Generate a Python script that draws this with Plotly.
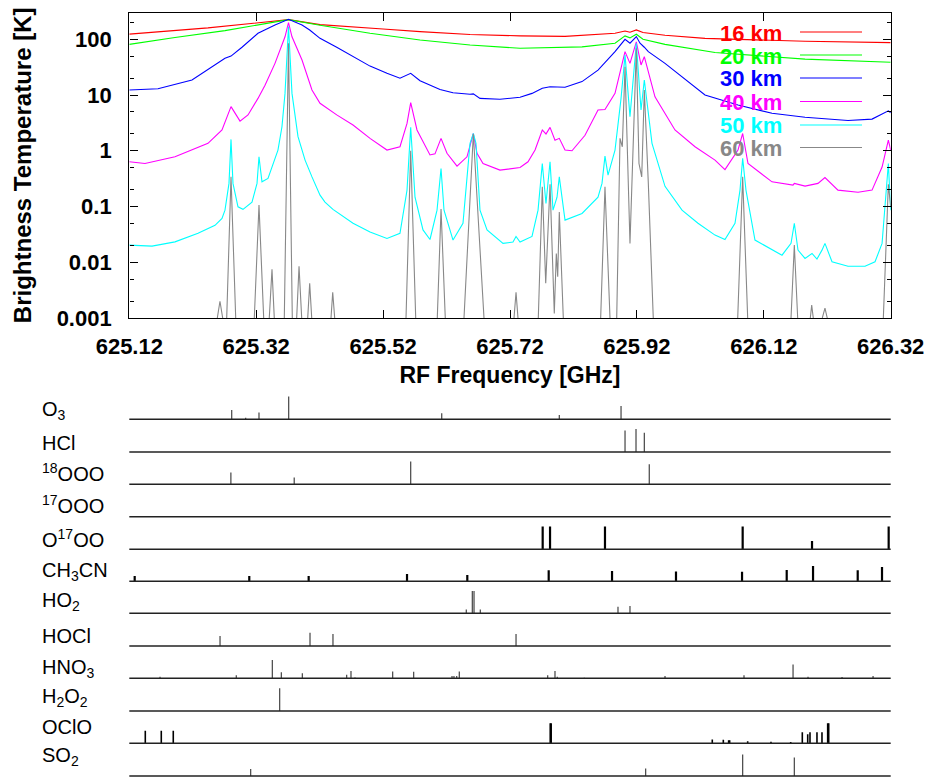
import plotly.graph_objects as go

# ---------------- data: brightness temperature spectra (GHz, K) ----------------
f16 = [625.12, 625.2440, 625.3709, 625.4206, 625.5198, 625.5782, 625.6570, 625.7358, 625.8067,
       625.8855, 625.9013, 625.9091, 625.9191, 625.9296, 625.9643, 626.0273, 626.1850, 626.2716, 626.32]
t16 = [124, 160, 225, 183, 153, 137, 122, 115, 113, 128, 141, 134, 147, 132, 118, 104, 92, 89, 87]

f20 = [625.12, 625.1920, 625.2708, 625.3228, 625.3709, 625.4206, 625.4994, 625.5782, 625.6570, 625.7358,
       625.8335, 625.8855, 625.9013, 625.9091, 625.9191, 625.9296, 625.9643, 626.0431, 626.1850, 626.32]
t20 = [81, 108, 143, 181, 225, 178, 128, 97, 79, 69, 73, 85, 115, 106, 123, 100, 81, 58, 44, 38.7]

f30 = [625.12, 625.1652, 625.2188, 625.2708, 625.2803, 625.2976, 625.3228, 625.3496, 625.3709, 625.3922,
       625.4043, 625.4206, 625.4469, 625.4726, 625.4994, 625.5261, 625.5466, 625.5635, 625.5782, 625.6097,
       625.6302, 625.6570, 625.6622, 625.6727, 625.7042, 625.7358, 625.7547, 625.7709, 625.7831, 625.8067,
       625.8335, 625.8587, 625.8855, 625.9013, 625.9091, 625.9191, 625.9249, 625.9317, 625.9380, 625.9643,
       625.9911, 626.0273, 626.0793, 626.1329, 626.1850, 626.2527, 626.2906, 626.3163, 626.32]
t30 = [12.3, 13, 18.6, 45.6, 50, 72, 128, 181, 229, 181,
       147, 104, 72, 48.7, 33, 24.5, 20, 24.5, 18, 12.6,
       11, 10.3, 10.5, 8.7, 8.4, 9.1, 10.7, 13.2, 14.1, 13.8,
       17.4, 28, 60, 100, 85, 112, 85, 72, 60, 37,
       21.4, 10, 6.6, 4.7, 4.0, 3.5, 3.7, 5.2, 4.8]

f40 = [625.12, 625.1447, 625.1920, 625.2440, 625.2661, 625.2803, 625.2945, 625.3071, 625.3228, 625.3339,
       625.3496, 625.3654, 625.3709, 625.3764, 625.3922, 625.4079, 625.4206, 625.4469, 625.4726, 625.4994,
       625.5261, 625.5466, 625.5577, 625.5635, 625.5734, 625.5939, 625.6018, 625.6113, 625.6207, 625.6365,
       625.6522, 625.6622, 625.6680, 625.6775, 625.7042, 625.7247, 625.7295, 625.7358, 625.7484, 625.7595,
       625.7709, 625.7767, 625.7831, 625.7909, 625.7977, 625.8067, 625.8177, 625.8382, 625.8587, 625.8697,
       625.8855, 625.9013, 625.9091, 625.9191, 625.9265, 625.9317, 625.9485, 625.9800, 626.0116, 626.0431,
       626.0588, 626.0793, 626.0867, 626.0951, 626.1329, 626.1660, 626.1681, 626.1850, 626.2054, 626.2164,
       626.2369, 626.2685, 626.2906, 626.3064, 626.3163, 626.32]
t40 = [0.635, 0.59, 0.78, 1.36, 2.36, 6.2, 3.4, 4.4, 8.7, 15,
       37, 111, 200, 111, 42.5, 12.3, 7.1, 4.4, 2.9, 1.67,
       1.03, 1.18, 3.1, 7.3, 2.36, 0.84, 0.88, 1.67, 0.9, 0.53,
       0.78, 2.04, 0.9, 0.59, 0.45, 0.48, 0.5, 0.5, 0.635, 1.03,
       2.36, 2.0, 2.63, 1.55, 1.67, 1.03, 1.0, 1.9, 5.4, 5.5,
       10.7, 60, 37, 90, 34.6, 48.7, 9.3, 2.36, 1.18, 0.68,
       0.46, 1.03, 2.04, 0.59, 0.277, 0.242, 0.26, 0.232, 0.26, 0.33,
       0.197, 0.18, 0.197, 0.51, 1.55, 1.03]

f50 = [625.12, 625.1558, 625.1920, 625.2283, 625.2551, 625.2661, 625.2708, 625.2771, 625.2803, 625.2834,
       625.2913, 625.2992, 625.3134, 625.3213, 625.3244, 625.3291, 625.3386, 625.3543, 625.3606, 625.3654,
       625.3709, 625.3764, 625.3859, 625.3970, 625.4079, 625.4206, 625.4284, 625.4410, 625.4726, 625.4994,
       625.5261, 625.5466, 625.5577, 625.5635, 625.5703, 625.5829, 625.5939, 625.6050, 625.6113, 625.6160,
       625.6302, 625.6459, 625.6570, 625.6622, 625.6664, 625.6727, 625.6838, 625.7090, 625.7247, 625.7295,
       625.7358, 625.7547, 625.7642, 625.7709, 625.7767, 625.7831, 625.7878, 625.7941, 625.7977, 625.8067,
       625.8335, 625.8587, 625.8650, 625.8697, 625.8745, 625.8855, 625.8950, 625.9013, 625.9091, 625.9191,
       625.9265, 625.9317, 625.9438, 625.9643, 625.9911, 626.0163, 626.0431, 626.0588, 626.0746, 626.0825,
       626.0867, 626.0919, 626.1061, 626.1487, 626.1629, 626.1681, 626.1739, 626.1850, 626.1960, 626.2038,
       626.2117, 626.2164, 626.2275, 626.2527, 626.2795, 626.2953, 626.3064, 626.3111, 626.3163, 626.32]
t50 = [0.0203, 0.0195, 0.0232, 0.033, 0.046, 0.061, 0.086, 0.26, 1.6, 0.26,
       0.099, 0.089, 0.12, 0.26, 0.78, 0.277, 0.32, 1.03, 2.7, 10.7,
       170, 10.7, 1.79, 0.68, 0.34, 0.16, 0.12, 0.089, 0.05, 0.035,
       0.0267, 0.033, 0.197, 2.63, 0.147, 0.038, 0.0256, 0.086, 0.48, 0.086,
       0.025, 0.05, 1.36, 2.04, 1.36, 0.086, 0.038, 0.0218, 0.023, 0.029,
       0.023, 0.029, 0.086, 0.59, 0.113, 0.635, 0.086, 0.147, 0.34, 0.057,
       0.075, 0.147, 0.26, 0.8, 0.366, 1.03, 8.7, 52, 4.1, 85,
       5.4, 18.6, 1.36, 0.23, 0.086, 0.05, 0.0307, 0.0256, 0.05, 0.197,
       0.73, 0.197, 0.025, 0.0134, 0.0218, 0.05, 0.0165, 0.0117, 0.0144, 0.0114,
       0.0165, 0.0218, 0.0102, 0.0085, 0.0085, 0.0102, 0.0218, 0.099, 0.59, 0.086]

# 60 km: only the parts above 0.001 K are visible; None separates the peaks
f60 = [625.2587, 625.2629, 625.2672, None,
       625.2735, 625.2803, 625.2877, None,
       625.3170, 625.3244, 625.3318, None,
       625.3406, 625.3449, 625.3485, None,
       625.3643, 625.3709, 625.3769, None,
       625.3838, 625.3875, 625.3917, None,
       625.4012, 625.4043, 625.4075, None,
       625.4379, 625.4406, 625.4437, None,
       625.5561, 625.5635, 625.5714, None,
       625.6054, 625.6113, 625.6180, None,
       625.6475, 625.6622, 625.6790, None,
       625.7263, 625.7295, 625.7326, None,
       625.7646, 625.7709, 625.7763, 625.7831, 625.7898, 625.7930, 625.7952, 625.7977, 625.8040, None,
       625.8629, 625.8697, 625.8776, None,
       625.8882, 625.8934, 625.8970, 625.9013, 625.9091, 625.9191, 625.9233, 625.9276, 625.9317, 625.9380, 625.9458, None,
       626.0789, 626.0867, 626.0946, None,
       626.1629, 626.1681, 626.1734, None,
       626.1933, 626.1955, 626.1980, None,
       626.2122, 626.2164, 626.2200, None,
       626.3084, 626.3163, 626.32]
t60 = [0.001, 0.002, 0.001, None,
       0.001, 0.34, 0.001, None,
       0.001, 0.106, 0.001, None,
       0.001, 0.0075, 0.001, None,
       0.001, 85, 0.001, None,
       0.001, 0.0085, 0.001, None,
       0.001, 0.0042, 0.001, None,
       0.001, 0.0029, 0.001, None,
       0.001, 1.0, 0.001, None,
       0.001, 0.09, 0.001, None,
       0.001, 2.0, 0.001, None,
       0.001, 0.0029, 0.001, None,
       0.001, 0.226, 0.0042, 0.25, 0.0012, 0.0144, 0.0055, 0.08, 0.001, None,
       0.001, 0.226, 0.001, None,
       0.001, 1.67, 1.18, 32, 0.0218, 69, 0.59, 0.34, 12.3, 0.26, 0.001, None,
       0.001, 0.34, 0.001, None,
       0.001, 0.0203, 0.001, None,
       0.001, 0.0017, 0.001, None,
       0.001, 0.0015, 0.001, None,
       0.001, 0.25, 0.1]

alt_names = ["16 km", "20 km", "30 km", "40 km", "50 km", "60 km"]
alt_colors = ["#ff0000", "#00ff00", "#0000ff", "#ff00ff", "#00ffff", "#888888"]
alt_freqs = [f16, f20, f30, f40, f50, f60]
alt_temps = [t16, t20, t30, t40, t50, t60]

x_tickvals = [625.12, 625.32, 625.52, 625.72, 625.92, 626.12, 626.32]
x_ticktext = ["625.12", "625.32", "625.52", "625.72", "625.92", "626.12", "626.32"]
y_tickvals = [0.001, 0.01, 0.1, 1, 10, 100]
y_ticktext = ["0.001", "0.01", "0.1", "1", "10", "100"]
y_minorvals = [0.002, 0.005, 0.02, 0.05, 0.2, 0.5, 2, 5, 20, 50, 200]

# ---------------- data: line positions of each species (GHz, relative strength) ----------------
sp_labels = ["O<sub>3</sub>", "HCl", "<sup>18</sup>OOO", "<sup>17</sup>OOO", "O<sup>17</sup>OO",
             "CH<sub>3</sub>CN", "HO<sub>2</sub>", "HOCl", "HNO<sub>3</sub>",
             "H<sub>2</sub>O<sub>2</sub>", "OClO", "SO<sub>2</sub>"]
o3_f = [625.2814, 625.3034, 625.3244, 625.3712, 625.6124, 625.7977, 625.8950]
o3_s = [0.40, 0.07, 0.30, 0.99, 0.26, 0.19, 0.58]
hcl_f = [625.9013, 625.9186, 625.9317]
hcl_s = [0.93, 1.0, 0.84]
o18_f = [625.2801, 625.3799, 625.5635, 625.9395]
o18_s = [0.51, 0.30, 0.99, 0.87]
o17a_f = []
o17a_s = []
o17b_f = [625.7715, 625.7831, 625.8697, 626.0867, 626.1960, 626.3168]
o17b_s = [0.99, 0.99, 0.99, 0.99, 0.36, 0.99]
ch3cn_f = [625.1285, 625.3091, 625.4027, 625.5577, 625.6527, 625.7810, 625.8808, 625.9816,
           626.0857, 626.1561, 626.1976, 626.2680, 626.3063]
ch3cn_s = [0.23, 0.23, 0.23, 0.32, 0.27, 0.48, 0.45, 0.43, 0.42, 0.49, 0.67, 0.48, 0.62]
ho2_f = [625.6511, 625.6606, 625.6633, 625.6732, 625.8902, 625.9091]
ho2_s = [0.17, 0.97, 0.97, 0.17, 0.29, 0.32]
hocl_f = [625.2630, 625.4048, 625.4410, 625.7295]
hocl_s = [0.43, 0.58, 0.52, 0.52]
hno3_f = [625.1684, 625.2886, 625.3454, 625.3596, 625.3927, 625.4626, 625.4694, 625.4757, 625.5351,
          625.5682, 625.6286, 625.6317, 625.6360, 625.6401, 625.7794, 625.7909, 625.7945, 625.8371,
          625.9643, 626.0888, 626.1661, 626.1897, 626.2433, 626.2922]
hno3_s = [0.07, 0.13, 0.80, 0.26, 0.22, 0.16, 0.32, 0.04, 0.30, 0.29, 0.10, 0.10, 0.10, 0.30,
          0.13, 0.32, 0.07, 0.03, 0.10, 0.13, 0.60, 0.07, 0.06, 0.10]
h2o2_f = [625.3570]
h2o2_s = [0.99]
oclo_f = [625.1452, 625.1704, 625.1893, 625.7834, 625.7849, 626.0388, 626.0562, 626.0646, 626.0662,
          626.0946, 626.1313, 626.1624, 626.1807, 626.1892, 626.1928, 626.2038, 626.2117, 626.2207, 626.2223]
oclo_s = [0.55, 0.55, 0.55, 0.87, 0.87, 0.17, 0.16, 0.13, 0.13, 0.09, 0.07, 0.06, 0.48, 0.39, 0.48,
          0.48, 0.48, 0.87, 0.87]
so2_f = [625.3113, 625.9338, 626.0867, 626.1681]
so2_s = [0.30, 0.33, 0.94, 0.80]

sp_freqs = [o3_f, hcl_f, o18_f, o17a_f, o17b_f, ch3cn_f, ho2_f, hocl_f, hno3_f, h2o2_f, oclo_f, so2_f]
sp_strengths = [o3_s, hcl_s, o18_s, o17a_s, o17b_s, ch3cn_s, ho2_s, hocl_s, hno3_s, h2o2_s, oclo_s, so2_s]

# ---------------- layout helpers (pixel positions -> paper fractions) ----------------
W, H = 930, 778
def fx(p):
    return p / W
def fy(p):
    return 1 - p / H

FONT = "Liberation Sans, Arial, Helvetica, sans-serif"
X_DOM = [fx(129.3), fx(890.7)]

fig = go.Figure()

for name, col, f, t in zip(alt_names, alt_colors, alt_freqs, alt_temps):
    fig.add_trace(go.Scatter(x=f, y=t, mode="lines", name=name,
                             line=dict(color=col, width=1.1),
                             xaxis="x", yaxis="y", showlegend=False,
                             connectgaps=False, hoverinfo="skip"))

layout = dict(
    width=W, height=H, margin=dict(l=0, r=0, t=0, b=0),
    paper_bgcolor="white", plot_bgcolor="white", showlegend=False,
    font=dict(family=FONT, color="black"),
    xaxis=dict(domain=X_DOM, range=[625.12, 626.32], anchor="y",
               tickmode="array", tickvals=x_tickvals, ticktext=x_ticktext,
               ticks="inside", ticklen=8, tickwidth=1.3, tickcolor="black",
               showline=True, linecolor="black", linewidth=1.4, mirror="ticks",
               showgrid=False, zeroline=False, automargin=False,
               tickfont=dict(family=FONT, size=22, weight="bold", color="black"),
               ticklabelstandoff=8,
               title=dict(text="RF Frequency [GHz]", standoff=9,
                          font=dict(family=FONT, size=23, weight="bold", color="black"))),
    yaxis=dict(domain=[fy(318), fy(12.7)], type="log", range=[-3, 2.477], anchor="x",
               tickmode="array", tickvals=y_tickvals, ticktext=y_ticktext,
               ticks="inside", ticklen=8, tickwidth=1.3, tickcolor="black",
               minor=dict(tickmode="array", tickvals=y_minorvals, ticks="inside",
                          ticklen=4, tickwidth=1.2, tickcolor="black", showgrid=False),
               showline=True, linecolor="black", linewidth=1.4, mirror="ticks",
               showgrid=False, zeroline=False, automargin=False,
               tickfont=dict(family=FONT, size=22, weight="bold", color="black"),
               ticklabelstandoff=12,
               title=dict(text="Brightness Temperature [K]", standoff=18,
                          font=dict(family=FONT, size=24, weight="bold", color="black"))),
)

shapes = []
annotations = []

# legend (text on the left, sample line on the right)
leg_y = [33, 56, 79, 102.5, 126, 148.5]
for name, col, yy in zip(alt_names, alt_colors, leg_y):
    annotations.append(dict(xref="paper", yref="paper", x=fx(784), y=fy(yy),
                            xanchor="right", yanchor="middle", showarrow=False,
                            text=name, font=dict(family=FONT, size=22, weight="bold", color=col)))
    shapes.append(dict(type="line", xref="paper", yref="paper", x0=fx(800), x1=fx(862),
                       y0=fy(yy - 1), y1=fy(yy - 1), line=dict(color=col, width=1.1)))

# species stick panels
baselines = [419.3, 452, 484.3, 516.7, 549.3, 581.3, 613.3, 646, 678.3, 711, 743.3, 776]
label_mid = [409.5, 442, 474.3, 506.7, 540, 570, 600, 635.7, 667, 696.7, 726.3, 755]
thick = {4: 2.2, 5: 2.2, 10: 1.6}
for i, (lab, f, s, b, ym) in enumerate(zip(sp_labels, sp_freqs, sp_strengths, baselines, label_mid)):
    yname = "y%d" % (i + 2)
    xs, ys = [], []
    for fi, si in zip(f, s):
        xs += [fi, fi, None]
        ys += [0, si, None]
    w = thick.get(i, 1.2)
    col = "black" if i in thick else "#444444"
    fig.add_trace(go.Scatter(x=xs, y=ys, mode="lines", line=dict(color=col, width=w),
                             xaxis="x", yaxis=yname, showlegend=False, hoverinfo="skip"))
    layout["yaxis%d" % (i + 2)] = dict(domain=[fy(b + 1.4), fy(b - 25.3)], range=[-0.06, 1.1],
                                       anchor="x", visible=False, fixedrange=True)
    shapes.append(dict(type="line", xref="x domain", yref=yname, x0=0, x1=1, y0=0, y1=0,
                       line=dict(color="#222222", width=1.6)))
    shift = 1.0 if "<sub>" in lab else (-2.0 if "<sup>" in lab else 0.5)
    annotations.append(dict(xref="paper", yref="paper", x=fx(40), y=fy(ym + shift),
                            xanchor="left", yanchor="middle", showarrow=False,
                            text=lab, font=dict(family=FONT, size=20, color="black")))

layout["shapes"] = shapes
layout["annotations"] = annotations
fig.update_layout(**layout)
fig.write_html("out.html")
